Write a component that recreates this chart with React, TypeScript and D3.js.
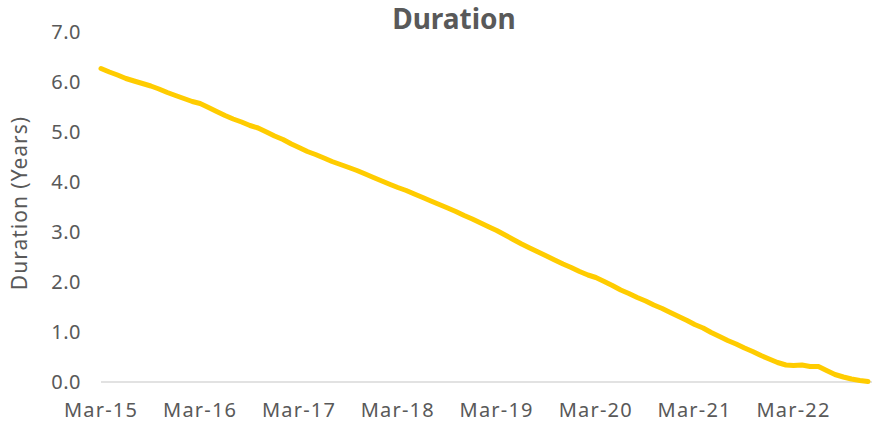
import React from "react";
import * as d3 from "d3";

// monthly duration readings, Mar-15 .. Dec-22
const startMonth = new Date(2015, 2, 1);
const durationYears = [
  6.27, 6.2, 6.14, 6.07, 6.02, 5.97, 5.92, 5.86, 5.79, 5.73, 5.67, 5.61,
  5.57, 5.49, 5.41, 5.33, 5.26, 5.2, 5.13, 5.08, 5.0, 4.92, 4.85, 4.76,
  4.69, 4.61, 4.55, 4.48, 4.41, 4.35, 4.29, 4.23, 4.16, 4.09, 4.02, 3.95,
  3.89, 3.83, 3.76, 3.69, 3.62, 3.55, 3.48, 3.41, 3.33, 3.26, 3.18, 3.1,
  3.03, 2.94, 2.85, 2.76, 2.68, 2.6, 2.52, 2.44, 2.36, 2.29, 2.21, 2.14,
  2.09, 2.01, 1.93, 1.84, 1.77, 1.69, 1.62, 1.54, 1.47, 1.39, 1.31, 1.23,
  1.15, 1.08, 0.99, 0.91, 0.83, 0.76, 0.68, 0.61, 0.53, 0.46, 0.39, 0.34,
  0.33, 0.34, 0.31, 0.31, 0.23, 0.15, 0.1, 0.06, 0.03, 0.01,
];
const yTicks = [0, 1, 2, 3, 4, 5, 6, 7];
const xTickYears = [2015, 2016, 2017, 2018, 2019, 2020, 2021, 2022];

const font = "'Noto Sans', sans-serif";
const textColor = "#595959";

export default function App() {
  const data = durationYears.map((v, i) => ({
    date: d3.timeMonth.offset(startMonth, i),
    value: v,
  }));

  const x = d3
    .scaleTime()
    .domain([startMonth, data[data.length - 1].date])
    .range([101, 868]);
  const y = d3.scaleLinear().domain([0, 7]).range([382, 32]);

  const line = d3
    .line<{ date: Date; value: number }>()
    .x((d) => x(d.date))
    .y((d) => y(d.value));

  const fmt = d3.timeFormat("%b-%y");

  return (
    <svg
      width={885}
      height={422}
      style={{ position: "absolute", left: 0, top: 0, background: "#fff" }}
    >
      <text
        x={454}
        y={29}
        textAnchor="middle"
        fontFamily={font}
        fontWeight="bold"
        fontSize={28}
        fill={textColor}
      >
        Duration
      </text>
      <text
        transform={`translate(27,${203}) rotate(-90)`}
        textAnchor="middle"
        fontFamily={font}
        fontSize={21}
        letterSpacing={1}
        fill={textColor}
      >
        Duration (Years)
      </text>
      {yTicks.map((t) => (
        <text
          key={t}
          x={81}
          y={y(t)}
          dy="0.35em"
          textAnchor="end"
          fontFamily={font}
          fontSize={20}
          letterSpacing={0.5}
          fill={textColor}
        >
          {t.toFixed(1)}
        </text>
      ))}
      <line x1={101} x2={872} y1={y(0)} y2={y(0)} stroke="#d9d9d9" strokeWidth={1.5} />
      {xTickYears.map((yr) => {
        const d = new Date(yr, 2, 1);
        return (
          <text
            key={yr}
            x={x(d)}
            y={417}
            textAnchor="middle"
            fontFamily={font}
            fontSize={20}
            letterSpacing={1.2}
            fill={textColor}
          >
            {fmt(d)}
          </text>
        );
      })}
      <path
        d={line(data) || ""}
        fill="none"
        stroke="#FFCC00"
        strokeWidth={5}
        strokeLinecap="round"
        strokeLinejoin="round"
      />
    </svg>
  );
}
